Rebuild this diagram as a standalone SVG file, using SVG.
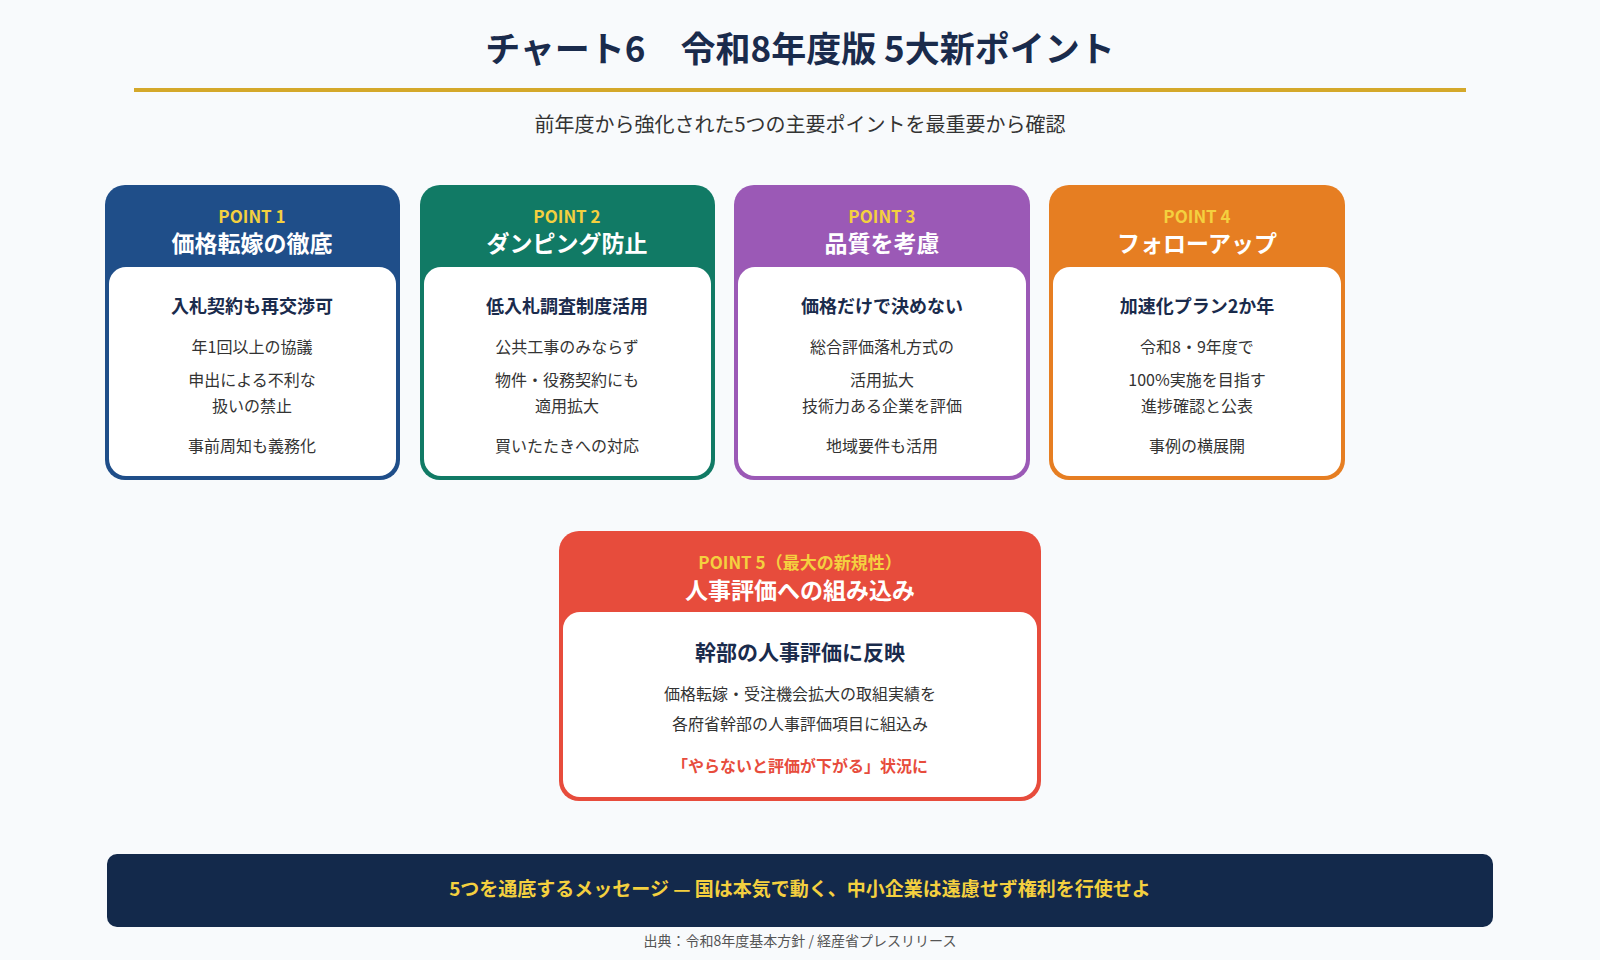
<svg xmlns="http://www.w3.org/2000/svg" width="1600" height="960" viewBox="0 0 1600 960">
<style>
text{font-family:"Noto Sans CJK JP","Noto Sans",sans-serif;text-anchor:middle}
.pt{font-size:17px;font-weight:700;fill:#f4d03f}
.ht{font-size:23px;font-weight:700;fill:#fff}
.bt{font-size:18px;font-weight:700;fill:#1a2b4c}
.tx{font-size:16px;fill:#333}
.in{fill:#fff}
</style>
<rect width="1600" height="960" fill="#f8fafc"/>
<text x="800" y="62" style="font-size:35px;font-weight:700;fill:#1a2b4c">チャート6　令和8年度版 5大新ポイント</text>
<rect x="134" y="88" width="1332" height="4" fill="#d4a82a"/>
<text x="800" y="132" style="font-size:20px;fill:#333">前年度から強化された5つの主要ポイントを最重要から確認</text>
<g id="p1">
<rect x="105" y="185" width="295" height="295" rx="20" fill="#1f4e89"/>
<rect x="109" y="267" width="287" height="209" rx="17" class="in"/>
<text x="252" y="223" class="pt">POINT 1</text><text x="252" y="252" class="ht">価格転嫁の徹底</text>
<text x="252" y="313" class="bt">入札契約も再交渉可</text>
<text x="252" y="353" class="tx">年1回以上の協議</text><text x="252" y="386" class="tx">申出による不利な</text><text x="252" y="412" class="tx">扱いの禁止</text><text x="252" y="452" class="tx">事前周知も義務化</text>
</g>
<g id="p2">
<rect x="420" y="185" width="295" height="295" rx="20" fill="#117a65"/>
<rect x="424" y="267" width="287" height="209" rx="17" class="in"/>
<text x="567" y="223" class="pt">POINT 2</text><text x="567" y="252" class="ht">ダンピング防止</text>
<text x="567" y="313" class="bt">低入札調査制度活用</text>
<text x="567" y="353" class="tx">公共工事のみならず</text><text x="567" y="386" class="tx">物件・役務契約にも</text><text x="567" y="412" class="tx">適用拡大</text><text x="567" y="452" class="tx">買いたたきへの対応</text>
</g>
<g id="p3">
<rect x="734" y="185" width="296" height="295" rx="20" fill="#9b59b6"/>
<rect x="738" y="267" width="288" height="209" rx="17" class="in"/>
<text x="882" y="223" class="pt">POINT 3</text><text x="882" y="252" class="ht">品質を考慮</text>
<text x="882" y="313" class="bt">価格だけで決めない</text>
<text x="882" y="353" class="tx">総合評価落札方式の</text><text x="882" y="386" class="tx">活用拡大</text><text x="882" y="412" class="tx">技術力ある企業を評価</text><text x="882" y="452" class="tx">地域要件も活用</text>
</g>
<g id="p4">
<rect x="1049" y="185" width="296" height="295" rx="20" fill="#e67e22"/>
<rect x="1053" y="267" width="288" height="209" rx="17" class="in"/>
<text x="1197" y="223" class="pt">POINT 4</text><text x="1197" y="252" class="ht">フォローアップ</text>
<text x="1197" y="313" class="bt">加速化プラン2か年</text>
<text x="1197" y="353" class="tx">令和8・9年度で</text><text x="1197" y="386" class="tx">100%実施を目指す</text><text x="1197" y="412" class="tx">進捗確認と公表</text><text x="1197" y="452" class="tx">事例の横展開</text>
</g>
<g id="p5">
<rect x="559" y="531" width="482" height="270" rx="20" fill="#e74c3c"/>
<rect x="563" y="612" width="474" height="185" rx="17" class="in"/>
<text x="800" y="569" class="pt">POINT 5（最大の新規性）</text><text x="800" y="599" class="ht">人事評価への組み込み</text>
<text x="800" y="660" style="font-size:21px;font-weight:700;fill:#1a2b4c">幹部の人事評価に反映</text>
<text x="800" y="700" class="tx">価格転嫁・受注機会拡大の取組実績を</text>
<text x="800" y="730" class="tx">各府省幹部の人事評価項目に組込み</text>
<text x="800" y="772" style="font-size:16px;font-weight:700;fill:#e74c3c">「やらないと評価が下がる」状況に</text>
</g>
<g id="connectors"/>
<g id="footer">
<rect x="107" y="854" width="1386" height="73" rx="10" fill="#13294b"/>
<text x="800" y="896" style="font-size:19px;font-weight:700;fill:#f4d03f">5つを通底するメッセージ — 国は本気で動く、中小企業は遠慮せず権利を行使せよ</text>
</g>
<text x="800" y="946" style="font-size:14px;fill:#555">出典：令和8年度基本方針 / 経産省プレスリリース</text>
</svg>
